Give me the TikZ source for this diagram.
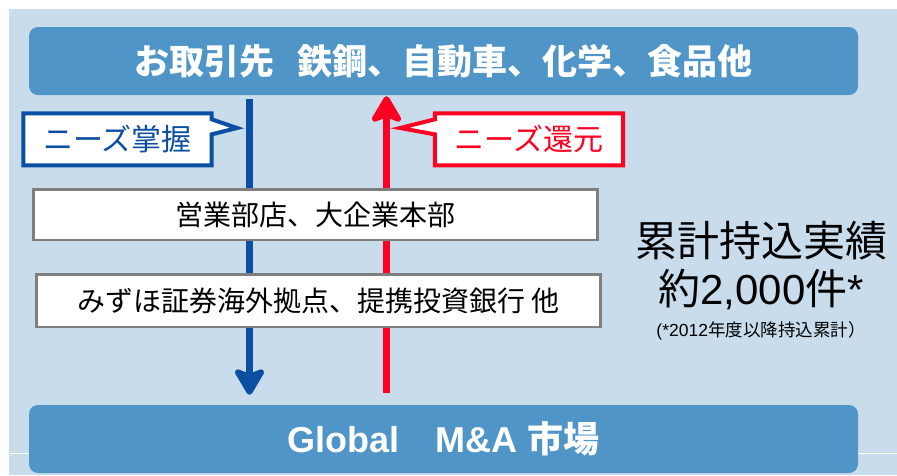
\documentclass[tikz,border=0pt]{standalone}
\usepackage{fontspec}
\setmainfont{Liberation Sans}
\newfontfamily\jpfont{Noto Sans CJK JP}
\usetikzlibrary{arrows.meta,calc,backgrounds}

\definecolor{paneblue}{HTML}{C8DCEB}
\definecolor{barblue}{HTML}{4F95C8}
\definecolor{needblue}{HTML}{0B4FA2}
\definecolor{needred}{HTML}{FF0022}
\definecolor{boxgray}{HTML}{7F7F7F}

\begin{document}
\begin{tikzpicture}[x=1pt,y=-1pt,
  bar/.style={fill=barblue, rounded corners=9pt, minimum width=829pt,
    minimum height=68pt, inner sep=0pt, text=white},
  flowline/.style={line width=7pt,
    -{Stealth[length=31pt,width=36pt,inset=7pt,round]}},
  calltext/.style={minimum width=188pt, minimum height=51.5pt, inner sep=0pt,
    font=\jpfont\fontsize{30}{30}\selectfont},
  callout/.style={fill=white, line width=4pt, line join=miter},
  stagebox/.style={draw=boxgray, fill=white, line width=2.5pt,
    minimum width=564pt, inner sep=0pt,
    font=\jpfont\fontsize{28}{28}\selectfont},
  bigtext/.style={inner sep=0pt, text=black}]
\useasboundingbox (0,0) rectangle (897,475);

% top and bottom bars
\node[bar] (top) at (443.5,61)
  {\jpfont\bfseries\fontsize{35}{35}\selectfont お取引先\hspace{24pt}鉄鋼、自動車、化学、食品他};
\node[bar] (bottom) at (443.5,439)
  {\bfseries\fontsize{36}{36}\selectfont Global\hspace{36pt}M\&A {\jpfont\bfseries 市場}};

% x positions of the two flows
\coordinate (bx) at (249.5,0);
\coordinate (rx) at (386.5,0);

% needs go down to the market, results come back up
\draw[flowline, needblue, shorten <=4pt, shorten >=10pt]
  (bx |- top.south) -- (bx |- bottom.north);
\draw[flowline, needred, shorten <=12pt, shorten >=1pt]
  (rx |- bottom.north) -- (rx |- top.south);

% callout labels
\node[calltext, text=needblue] (grasp) at (117.5,139.3) {ニーズ掌握};
\node[calltext, text=needred] (giveback) at (529,139.3) {ニーズ還元};
\coordinate (gtip) at (237,128);
\coordinate (rtip) at (400,128);

% channel boxes
\node[stagebox, minimum height=50.5pt] (sales) at (315.5,214.5) {営業部店、大企業本部};
\node[stagebox, minimum height=52.5pt] (overseas) at (318.5,300.5) {みずほ証券海外拠点、提携投資銀行 他};

% track record
\node[bigtext, font=\jpfont\fontsize{42}{42}\selectfont] (total) at (761,241) {累計持込実績};
\node[bigtext, font=\fontsize{42}{42}\selectfont] (count) at (761,290)
  {{\jpfont 約}2,000{\jpfont 件}*};
\node[bigtext, font=\fontsize{17.5}{17.5}\selectfont] (note) at (761,331)
  {(*2012{\jpfont 年度以降持込累計）}};

\begin{scope}[on background layer]
  \fill[white] (0,0) rectangle (897,475);
  \fill[paneblue] (9,9) rectangle (897,475);
  \draw[white, line width=1pt] (9,453) -- (897,453);
  \draw[callout, draw=needblue] (grasp.north west) -- (grasp.north east)
    -- ($(grasp.north east)+(0,6)$) -- (gtip) -- ($(grasp.north east)+(0,21)$)
    -- (grasp.south east) -- (grasp.south west) -- cycle;
  \draw[callout, draw=needred] (giveback.north east) -- (giveback.north west)
    -- ($(giveback.north west)+(0,6)$) -- (rtip) -- ($(giveback.north west)+(0,21)$)
    -- (giveback.south west) -- (giveback.south east) -- cycle;
\end{scope}
\end{tikzpicture}
\end{document}
